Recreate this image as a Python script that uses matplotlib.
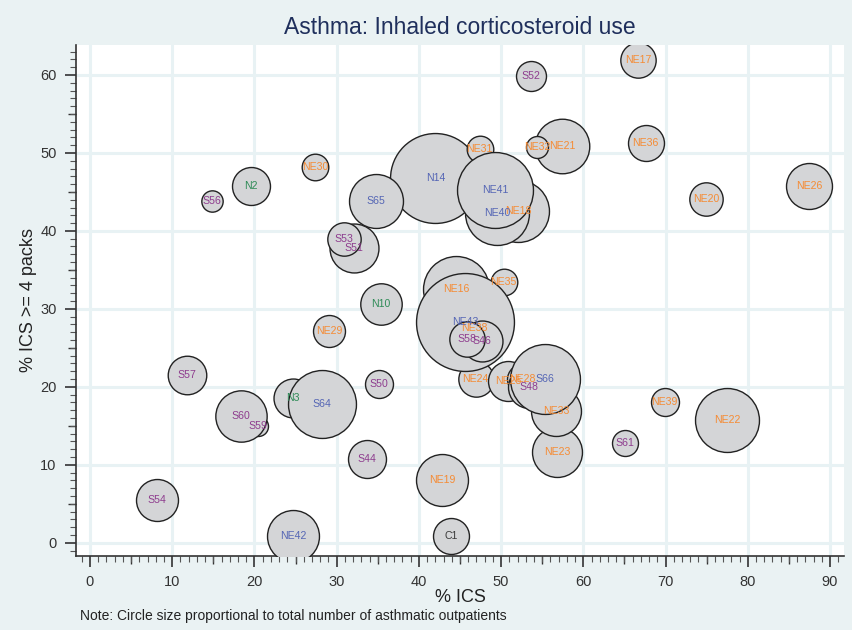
import numpy as np
import matplotlib
matplotlib.use("Agg")
import matplotlib.pyplot as plt
from matplotlib.ticker import MultipleLocator

# hospital ids, % ICS, % ICS >= 4 packs, asthmatic outpatients (relative)
labels = ["C1", "N2", "N3", "N10", "N14", "NE16", "NE17", "NE18", "NE19", "NE20",
          "NE21", "NE22", "NE23", "NE24", "NE25", "NE26", "NE28", "NE29", "NE30",
          "NE31", "NE32", "NE33", "NE35", "NE36", "NE38", "NE39", "NE40", "NE41",
          "NE42", "NE43", "S44", "S46", "S48", "S50", "S51", "S52", "S53", "S54",
          "S56", "S57", "S58", "S59", "S60", "S61", "S64", "S65", "S66"]
ics = [43.9, 19.6, 24.7, 35.4, 42.0, 44.5, 66.7, 52.1, 42.8, 74.9,
       57.4, 77.5, 56.8, 46.9, 50.9, 87.5, 52.6, 29.1, 27.4,
       47.4, 54.4, 56.7, 50.3, 67.6, 46.8, 69.9, 49.5, 49.3,
       24.7, 45.6, 33.7, 47.7, 53.4, 35.1, 32.1, 53.6, 30.9, 8.1,
       14.8, 11.8, 45.9, 20.4, 18.4, 65.1, 28.2, 34.8, 55.3]
ics4 = [0.9, 45.7, 18.6, 30.6, 46.8, 32.5, 61.9, 42.6, 8.0, 44.1,
        50.9, 15.7, 11.6, 21.0, 20.7, 45.7, 21.0, 27.2, 48.2,
        50.5, 50.8, 16.9, 33.5, 51.3, 27.5, 18.0, 42.3, 45.2,
        0.8, 28.3, 10.8, 25.9, 20.0, 20.3, 37.8, 59.9, 38.9, 5.5,
        43.9, 21.5, 26.1, 15.0, 16.2, 12.8, 17.8, 43.8, 21.0]
patients = [324, 361, 380, 430, 2025, 1089, 313, 961, 676, 279,
            745, 1024, 625, 313, 400, 529, 225, 256, 177,
            177, 121, 625, 177, 324, 100, 196, 1024, 1444,
            676, 2401, 361, 420, 441, 196, 600, 225, 279, 441,
            114, 372, 313, 100, 660, 169, 1156, 729, 1225]
label_colors = ["#3a3a3a", "#2e8b57", "#2e8b57", "#2e8b57", "#5566b5", "#f58b34", "#f58b34",
                "#f58b34", "#f58b34", "#f58b34", "#f58b34", "#f58b34", "#f58b34", "#f58b34",
                "#f58b34", "#f58b34", "#f58b34", "#f58b34", "#f58b34", "#f58b34", "#f58b34",
                "#f58b34", "#f58b34", "#f58b34", "#f58b34", "#f58b34", "#5566b5", "#5566b5",
                "#5566b5", "#5566b5", "#8e3c8e", "#8e3c8e", "#8e3c8e", "#8e3c8e", "#8e3c8e",
                "#8e3c8e", "#8e3c8e", "#8e3c8e", "#8e3c8e", "#8e3c8e", "#8e3c8e", "#8e3c8e",
                "#8e3c8e", "#8e3c8e", "#5566b5", "#5566b5", "#5566b5"]

bg = "#eaf2f3"
plt.rcParams['font.family'] = ['Liberation Sans', 'DejaVu Sans']

fig = plt.figure(figsize=(8.53, 6.30), dpi=100, facecolor=bg)
ax = fig.add_axes([0.0891, 0.1175, 0.9003, 0.8111])
ax.set_facecolor("white")

# circles drawn in id order, area proportional to outpatients
for i in range(len(labels)):
    ax.scatter(ics[i], ics4[i], s=patients[i] * 2.07, facecolor="#d4d5d7",
               edgecolor="#222222", linewidth=1.0, zorder=3)
    ax.text(ics[i], ics4[i], labels[i], color=label_colors[i], fontsize=7.6,
            ha="center", va="center", zorder=4, clip_on=False)

ax.set_xlim(-1.7, 91.7)
ax.set_ylim(-1.7, 63.85)
ax.xaxis.set_major_locator(MultipleLocator(10))
ax.xaxis.set_minor_locator(MultipleLocator(1))
ax.yaxis.set_major_locator(MultipleLocator(10))
ax.yaxis.set_minor_locator(MultipleLocator(1))
ax.grid(True, which="major", color="#e8f2f4", linewidth=2.2, zorder=0)
ax.set_axisbelow(True)

for side in ["top", "right"]:
    ax.spines[side].set_visible(False)
for side in ["left", "bottom"]:
    ax.spines[side].set_color("#333333")
    ax.spines[side].set_linewidth(1.2)

ax.tick_params(which="major", length=8, width=1.2, color="#333333",
               labelsize=10.5, labelcolor="#333333", pad=6)
ax.tick_params(which="minor", length=4, width=0.8, color="#555555")

# medium ticks at the fives
sx = ax.secondary_xaxis("bottom")
sx.set_xticks(np.arange(5, 91, 10))
sx.tick_params(length=6, width=1.0, color="#333333", labelbottom=False)
sx.spines["bottom"].set_visible(False)
sy = ax.secondary_yaxis("left")
sy.set_yticks(np.arange(5, 61, 10))
sy.tick_params(length=6, width=1.0, color="#333333", labelleft=False)
sy.spines["left"].set_visible(False)

ax.set_xlabel("% ICS", fontsize=13, color="#222222", labelpad=0,
              family=['Liberation Sans Narrow', 'Liberation Sans'])
ax.set_ylabel("% ICS >= 4 packs", fontsize=13, color="#222222", labelpad=2)
fig.text(0.5395, 0.956, "Asthma: Inhaled corticosteroid use", ha="center", va="center",
         fontsize=16.5, color="#1f2f5c")
fig.text(0.094, 0.016, "Note: Circle size proportional to total number of asthmatic outpatients",
         fontsize=10, color="#222222", family=['Liberation Sans Narrow', 'Liberation Sans'])

fig.savefig("out.png", dpi=100, facecolor=bg)
